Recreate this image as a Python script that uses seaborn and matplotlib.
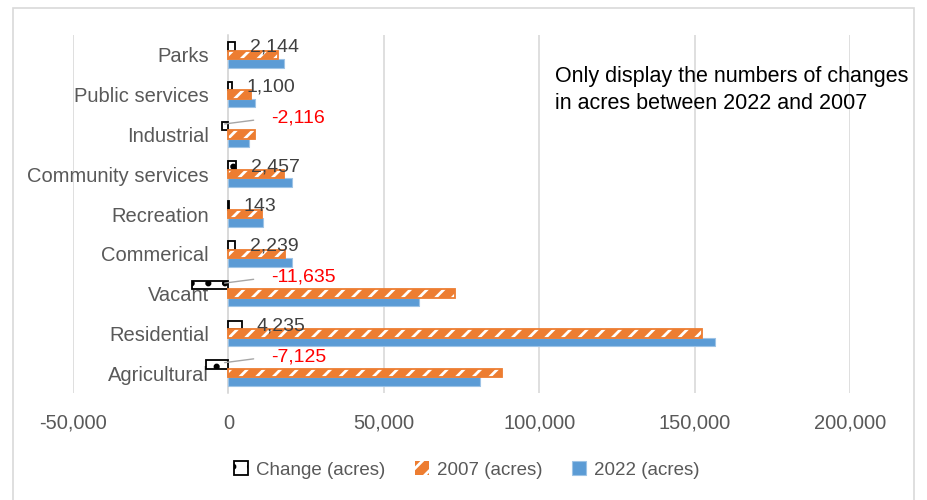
import pandas as pd
import matplotlib
matplotlib.use("Agg")
import matplotlib.pyplot as plt
import matplotlib.ticker as mticker
import seaborn as sns

# data
categories = ["Parks", "Public services", "Industrial", "Community services",
              "Recreation", "Commerical", "Vacant", "Residential", "Agricultural"]
acres_2007 = [15800, 7300, 8600, 17900, 10900, 18300, 73050, 152400, 88100]
acres_2022 = [17944, 8400, 6484, 20357, 11043, 20539, 61415, 156635, 80975]
change = [2144, 1100, -2116, 2457, 143, 2239, -11635, 4235, -7125]
series = ["Change (acres)", "2007 (acres)", "2022 (acres)"]

# long format table for seaborn
df = pd.DataFrame({
    "category": categories * 3,
    "series": [series[0]] * 9 + [series[1]] * 9 + [series[2]] * 9,
    "acres": change + acres_2007 + acres_2022,
})

sns.set_style("white")
plt.rcParams["font.family"] = ["Liberation Sans", "DejaVu Sans"]
plt.rcParams["hatch.linewidth"] = 2.0

fig = plt.figure(figsize=(9.28, 5), dpi=100)
ax = fig.add_axes([73 / 928, 1 - 393 / 500, (850 - 73) / 928, (393 - 35) / 500])

sns.barplot(data=df, y="category", x="acres", hue="series", order=categories,
            hue_order=series, orient="h", width=0.64, gap=0, ax=ax,
            legend=False, errorbar=None)

orange = "#ED7D31"

# style each series like the excel chart
c_change, c_2007, c_2022 = ax.containers
for p in c_change:
    p.set_facecolor("white")
    p.set_edgecolor("black")
    p.set_linewidth(1.3)
    p.set_hatch(".")
for p in c_2007:
    # orange fill with white stripes, then an orange outline on top
    p.set_facecolor(orange)
    p.set_edgecolor("white")
    p.set_linewidth(0)
    p.set_hatch("//")
    ax.add_patch(plt.Rectangle(p.get_xy(), p.get_width(), p.get_height(),
                               fill=False, edgecolor=orange, linewidth=1.3,
                               zorder=p.get_zorder() + 0.1))
for p in c_2022:
    p.set_facecolor("#5B9BD5")
    p.set_edgecolor("#9DC3E6")
    p.set_linewidth(0.8)

# axes look
ax.set_xlim(-50000, 200000)
ax.set_ylim(8.5, -0.5)
ax.xaxis.set_major_locator(mticker.MultipleLocator(50000))
ax.xaxis.set_major_formatter(mticker.FuncFormatter(lambda v, pos: f"{v:,.0f}"))
ax.grid(axis="x", color="#D9D9D9", linewidth=1.2)
ax.set_axisbelow(True)
for s in ["top", "right", "bottom"]:
    ax.spines[s].set_visible(False)
ax.spines["left"].set_position(("data", 0))
ax.spines["left"].set_color("#D9D9D9")
ax.spines["left"].set_linewidth(1.2)
ax.spines["left"].set_zorder(0.5)
ax.tick_params(axis="y", length=0, pad=14, labelsize=14.5, labelcolor="#595959")
ax.tick_params(axis="x", length=0, pad=15, labelsize=14.5, labelcolor="#595959")
ax.set_xlabel("")
ax.set_ylabel("")

# change labels
for p, val in zip(c_change, change):
    yc = p.get_y() + p.get_height() / 2
    if val >= 0:
        ax.annotate(f"{val:,}", xy=(val, yc), xytext=(15, -1),
                    textcoords="offset pixels", ha="left", va="center",
                    fontsize=14, color="#404040")
    else:
        ax.annotate(f"{val:,}", xy=(-1200, yc - 0.05), xytext=(46, 6),
                    textcoords="offset pixels", ha="left", va="center",
                    fontsize=14, color="#FF0000",
                    arrowprops=dict(arrowstyle="-", color="#A6A6A6", lw=1,
                                    shrinkA=10, shrinkB=0, relpos=(0, 0.5)))

fig.text(555 / 928, 1 - 66 / 500,
         "Only display the numbers of changes\nin acres between 2022 and 2007",
         ha="left", va="top", fontsize=15.5, color="black", linespacing=1.35)

legend_2007 = plt.Rectangle((0, 0), 1, 1, facecolor=orange, edgecolor="white",
                            hatch="//", linewidth=0)
leg = fig.legend([c_change, legend_2007, c_2022], series, loc="center",
                 bbox_to_anchor=(0.503, 0.06), ncol=3, frameon=False,
                 fontsize=13.5, handlelength=0.75, handleheight=0.75,
                 handletextpad=0.4, columnspacing=1.6)
for t in leg.get_texts():
    t.set_color("#595959")

# chart border
fig.patches.append(plt.Rectangle((13 / 928, -0.02), (914 - 13) / 928, 1.004,
                                 transform=fig.transFigure, fill=False,
                                 edgecolor="#D9D9D9", linewidth=1.2))

fig.savefig("out.png", dpi=100)
